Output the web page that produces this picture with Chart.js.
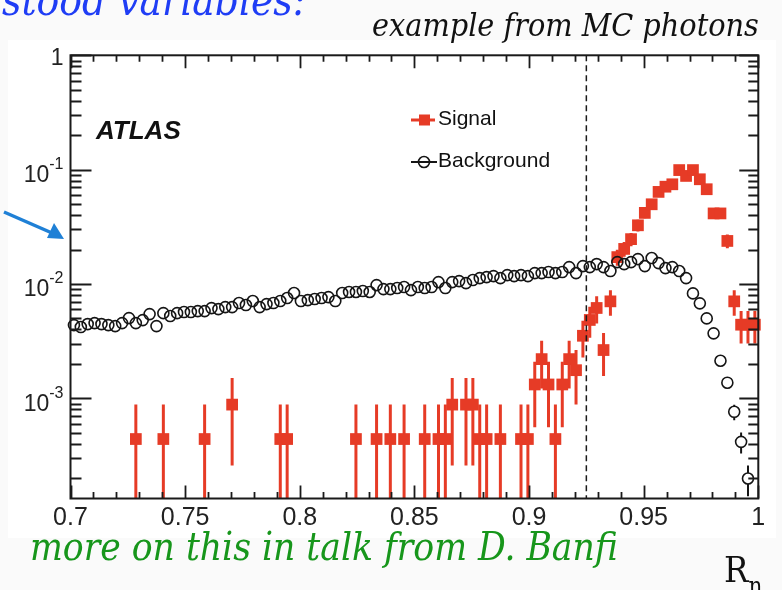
<!DOCTYPE html>
<html>
<head>
<meta charset="utf-8">
<script src="https://cdn.jsdelivr.net/npm/chart.js@4/dist/chart.umd.min.js"></script>
<style>
  html, body { margin: 0; padding: 0; }
  body { width: 782px; height: 590px; position: relative; overflow: hidden; background: #fafafa; }
  #fig { position: absolute; left: 8px; top: 40px; width: 768px; height: 498px; background: #ffffff; }
  #plot { position: absolute; left: 0; top: 0; }
  .slide { position: absolute; white-space: nowrap; line-height: 1;
           font-family: "DejaVu Serif Condensed", "DejaVu Serif", serif; font-stretch: condensed; font-style: italic; }
  #topline { left: 2px; top: -20px; font-size: 42px; color: #1f3df5; }
  #source { left: 372px; top: 9px; font-size: 32px; color: #111; }
  #note { left: 30px; top: 528px; font-size: 38.5px; color: #17961b; }
  #xtitle { left: 724px; top: 552px; font-size: 36px; color: #111; font-style: normal; }
  #xtitle sub { font-size: 24px; vertical-align: -12px; }
  #arrow { position: absolute; left: 0; top: 0; pointer-events: none; }
</style>
</head>
<body>
<div id="fig"></div>
<canvas id="plot" width="782" height="590"></canvas>
<div class="slide" id="topline">stood variables:</div>
<div class="slide" id="source">example from MC photons</div>
<div class="slide" id="note">more on this in talk from D. Banfi</div>
<div class="slide" id="xtitle">R<sub>η</sub></div>
<svg id="arrow" width="782" height="590">
  <line x1="4" y1="212" x2="52" y2="233" stroke="#1f80d6" stroke-width="3.5"/>
  <polygon points="64,239 47,238 54,223" fill="#1f80d6"/>
</svg>

<script>
// Histogram binning of R_eta (100 bins between 0.7 and 1)
const BIN_LOW = 0.7;
const BIN_HIGH = 1.0;
const N_BINS = 100;

// Axis ticks and their labels
const X_TICKS = [0.7, 0.75, 0.8, 0.85, 0.9, 0.95, 1];
const X_TICK_LABELS = ['0.7', '0.75', '0.8', '0.85', '0.9', '0.95', '1'];
const Y_TICKS = [1e-3, 1e-2, 1e-1, 1];
const Y_TICK_LABELS = [['10', '-3'], ['10', '-2'], ['10', '-1'], ['1', '']];
const Y_MIN = 1.33e-4;
const Y_MAX = 1;

// Selection cut drawn as a dashed line
const CUT_VALUE = 0.925;

// Normalisation: total simulated events in each sample
const SIGNAL_EVENTS = 2270;
const BACKGROUND_EVENTS = 55000;

// Signal photons: raw entries per bin
const signalEntries = [
  0, 0, 0, 0, 0, 0, 0, 0, 0, 1,
  0, 0, 0, 1, 0, 0, 0, 0, 0, 1,
  0, 0, 0, 2, 0, 0, 0, 0, 0, 0,
  1, 1, 0, 0, 0, 0, 0, 0, 0, 0,
  0, 1, 0, 0, 1, 0, 1, 0, 1, 0,
  0, 1, 0, 1, 1, 2, 0, 2, 2, 1,
  1, 0, 1, 0, 0, 1, 1, 3, 5, 3,
  1, 3, 5, 4, 8, 11, 14, 6, 16, 39,
  46, 56, 74, 95, 113, 145, 161, 169, 225, 200,
  225, 187, 153, 94, 94, 54, 16, 10, 10, 10
];

// Background (jets): normalised fraction per bin
const backgroundFraction = [
  4.37e-3, 4.20e-3, 4.46e-3, 4.55e-3, 4.46e-3, 4.37e-3, 4.28e-3, 4.55e-3, 5.03e-3, 4.55e-3,
  4.83e-3, 5.45e-3, 4.28e-3, 5.56e-3, 5.24e-3, 5.56e-3, 5.68e-3, 5.68e-3, 5.79e-3, 5.79e-3,
  6.15e-3, 6.03e-3, 6.28e-3, 6.28e-3, 6.81e-3, 6.54e-3, 7.09e-3, 6.28e-3, 6.67e-3, 6.81e-3,
  7.09e-3, 7.53e-3, 8.33e-3, 7.09e-3, 7.23e-3, 7.38e-3, 7.53e-3, 7.68e-3, 7.09e-3, 8.33e-3,
  8.50e-3, 8.50e-3, 8.67e-3, 8.50e-3, 9.78e-3, 9.02e-3, 9.02e-3, 9.21e-3, 9.40e-3, 8.84e-3,
  9.40e-3, 9.21e-3, 9.40e-3, 1.039e-2, 9.21e-3, 1.039e-2, 1.060e-2, 1.018e-2, 1.082e-2, 1.126e-2,
  1.149e-2, 1.172e-2, 1.126e-2, 1.196e-2, 1.172e-2, 1.196e-2, 1.172e-2, 1.245e-2, 1.245e-2, 1.271e-2,
  1.245e-2, 1.271e-2, 1.405e-2, 1.245e-2, 1.434e-2, 1.405e-2, 1.493e-2, 1.405e-2, 1.297e-2, 1.554e-2,
  1.493e-2, 1.554e-2, 1.651e-2, 1.434e-2, 1.685e-2, 1.523e-2, 1.377e-2, 1.405e-2, 1.297e-2, 1.126e-2,
  8.27e-3, 6.77e-3, 5.00e-3, 3.70e-3, 2.13e-3, 1.37e-3, 7.62e-4, 4.16e-4, 1.99e-4, null
];

const SIGNAL_COLOR = '#e63b26';
const BACKGROUND_COLOR = '#151515';
const AXIS_COLOR = '#1a1a1a';
const LABEL_FONT = '"Liberation Sans", Arial, sans-serif';

const binWidth = (BIN_HIGH - BIN_LOW) / N_BINS;
const binCentre = i => BIN_LOW + (i + 0.5) * binWidth;

// Points carry their Poisson uncertainty band (lo, hi)
const signalPoints = [];
signalEntries.forEach((n, i) => {
  if (!n) return;
  const s = Math.sqrt(n);
  signalPoints.push({ x: binCentre(i), y: n / SIGNAL_EVENTS,
                      lo: (n - s) / SIGNAL_EVENTS, hi: (n + s) / SIGNAL_EVENTS });
});
const backgroundPoints = [];
backgroundFraction.forEach((v, i) => {
  if (v == null) return;
  const e = Math.sqrt(v / BACKGROUND_EVENTS);
  backgroundPoints.push({ x: binCentre(i), y: v, lo: v - e, hi: v + e });
});

// Vertical error bars, drawn underneath the markers
const errorBars = {
  id: 'errorBars',
  beforeDatasetsDraw(chart) {
    const { ctx, chartArea: a, scales: { x, y } } = chart;
    ctx.save();
    ctx.beginPath();
    ctx.rect(a.left, a.top, a.right - a.left, a.bottom - a.top);
    ctx.clip();
    chart.data.datasets.forEach(ds => {
      ctx.strokeStyle = ds.borderColor;
      ctx.lineWidth = ds.errorWidth;
      const gap = ds.errorGap || 0;
      ds.data.forEach(p => {
        const px = x.getPixelForValue(p.x);
        const py = y.getPixelForValue(p.y);
        const top = y.getPixelForValue(p.hi);
        const bottom = p.lo > 0 ? y.getPixelForValue(p.lo) : a.bottom;
        ctx.beginPath();
        if (top < py - gap) { ctx.moveTo(px, top); ctx.lineTo(px, py - gap); }
        if (bottom > py + gap) { ctx.moveTo(px, py + gap); ctx.lineTo(px, bottom); }
        ctx.stroke();
      });
    });
    ctx.restore();
  }
};

// Frame with inward ticks on all four sides, cut line, y labels, legend and experiment label
const frame = {
  id: 'frame',
  afterDatasetsDraw(chart) {
    const { ctx, chartArea: a, scales: { x, y } } = chart;
    ctx.save();
    ctx.strokeStyle = AXIS_COLOR;
    ctx.lineWidth = 1.8;

    // x ticks: minor every 0.01, major every 0.05
    ctx.beginPath();
    for (let k = 0; k <= 30; k++) {
      const v = BIN_LOW + k * 0.01;
      const px = Math.round(x.getPixelForValue(v)) + 0.5;
      const len = k % 5 === 0 ? 13 : 6.5;
      ctx.moveTo(px, a.bottom); ctx.lineTo(px, a.bottom - len);
      ctx.moveTo(px, a.top); ctx.lineTo(px, a.top + len);
    }
    // y ticks: decades and 2..9 minors
    for (let e = -4; e <= 0; e++) {
      for (let m = 1; m <= 9; m++) {
        const v = m * Math.pow(10, e);
        if (v < Y_MIN || v > Y_MAX) continue;
        const py = Math.round(y.getPixelForValue(v)) + 0.5;
        const major = m === 1;
        ctx.moveTo(a.left, py); ctx.lineTo(a.left + (major ? 21 : 11), py);
        ctx.moveTo(a.right, py); ctx.lineTo(a.right - (major ? 19 : 10), py);
      }
    }
    ctx.stroke();
    ctx.lineWidth = 2;
    ctx.strokeRect(a.left, a.top, a.right - a.left, a.bottom - a.top);

    // selection cut
    const cx = x.getPixelForValue(CUT_VALUE);
    ctx.lineWidth = 1.5;
    ctx.setLineDash([6, 4]);
    ctx.beginPath();
    ctx.moveTo(cx, a.top); ctx.lineTo(cx, a.bottom);
    ctx.stroke();
    ctx.setLineDash([]);

    // y tick labels with superscript exponents
    ctx.fillStyle = '#222';
    ctx.textBaseline = 'middle';
    ctx.textAlign = 'right';
    const right = a.left - 7;
    Y_TICKS.forEach((v, k) => {
      const py = y.getPixelForValue(v);
      const [base, exp] = Y_TICK_LABELS[k];
      if (exp) {
        ctx.font = '16px ' + LABEL_FONT;
        const ew = ctx.measureText(exp).width;
        ctx.fillText(exp, right, py - 5);
        ctx.font = '23px ' + LABEL_FONT;
        ctx.fillText(base, right - ew, py + 6);
      } else {
        ctx.font = '23px ' + LABEL_FONT;
        ctx.fillText(base, right, py + 3);
      }
    });

    // legend
    const sig = chart.data.datasets[1];
    const bkg = chart.data.datasets[0];
    ctx.textAlign = 'left';
    ctx.font = '21px ' + LABEL_FONT;
    ctx.lineWidth = 3;
    ctx.strokeStyle = sig.borderColor;
    ctx.beginPath(); ctx.moveTo(411, 120); ctx.lineTo(435, 120); ctx.stroke();
    ctx.fillStyle = sig.backgroundColor;
    ctx.fillRect(419, 114.5, 11, 11);
    ctx.fillStyle = '#111';
    ctx.fillText('Signal', 438, 119);
    ctx.lineWidth = 2;
    ctx.strokeStyle = bkg.borderColor;
    ctx.beginPath(); ctx.moveTo(411, 162); ctx.lineTo(437, 162); ctx.stroke();
    ctx.lineWidth = 1.6;
    ctx.beginPath(); ctx.arc(424, 162, 5.5, 0, Math.PI * 2); ctx.stroke();
    ctx.fillText('Background', 438, 161);

    // experiment label
    ctx.font = 'italic bold 26px ' + LABEL_FONT;
    ctx.fillStyle = '#111';
    ctx.textBaseline = 'alphabetic';
    ctx.fillText('ATLAS', 96, 139);
    ctx.restore();
  }
};

new Chart(document.getElementById('plot'), {
  type: 'scatter',
  data: {
    datasets: [
      {
        label: 'Background',
        data: backgroundPoints,
        pointStyle: 'circle',
        pointRadius: 5.5,
        pointHoverRadius: 5.5,
        borderWidth: 1.6,
        borderColor: BACKGROUND_COLOR,
        backgroundColor: 'rgba(0,0,0,0)',
        errorWidth: 2,
        errorGap: 5.5,
        clip: false
      },
      {
        label: 'Signal',
        data: signalPoints,
        pointStyle: 'rect',
        pointRadius: 8.3,
        pointHoverRadius: 8.3,
        borderWidth: 0,
        borderColor: SIGNAL_COLOR,
        backgroundColor: SIGNAL_COLOR,
        errorWidth: 3,
        errorGap: 0,
        clip: false
      }
    ]
  },
  options: {
    responsive: false,
    animation: false,
    devicePixelRatio: 1,
    layout: { padding: { top: 55.3, right: 23.7, left: 0, bottom: 0 } },
    plugins: { legend: { display: false }, tooltip: { enabled: false } },
    scales: {
      x: {
        type: 'linear',
        min: BIN_LOW,
        max: BIN_HIGH,
        grid: { display: false, drawTicks: false },
        border: { display: false },
        afterBuildTicks: s => { s.ticks = X_TICKS.map(v => ({ value: v })); },
        afterFit: s => { s.height = 91.5; },
        ticks: {
          autoSkip: false,
          maxRotation: 0,
          padding: 5,
          color: '#222',
          font: { family: LABEL_FONT, size: 25 },
          callback: v => X_TICK_LABELS[X_TICKS.findIndex(t => Math.abs(t - v) < 1e-9)]
        }
      },
      y: {
        type: 'logarithmic',
        min: Y_MIN,
        max: Y_MAX,
        grid: { display: false, drawTicks: false },
        border: { display: false },
        afterBuildTicks: s => { s.ticks = Y_TICKS.map(v => ({ value: v })); },
        afterFit: s => { s.width = 70.5; },
        ticks: { display: false }
      }
    }
  },
  plugins: [errorBars, frame]
});
</script>
</body>
</html>
